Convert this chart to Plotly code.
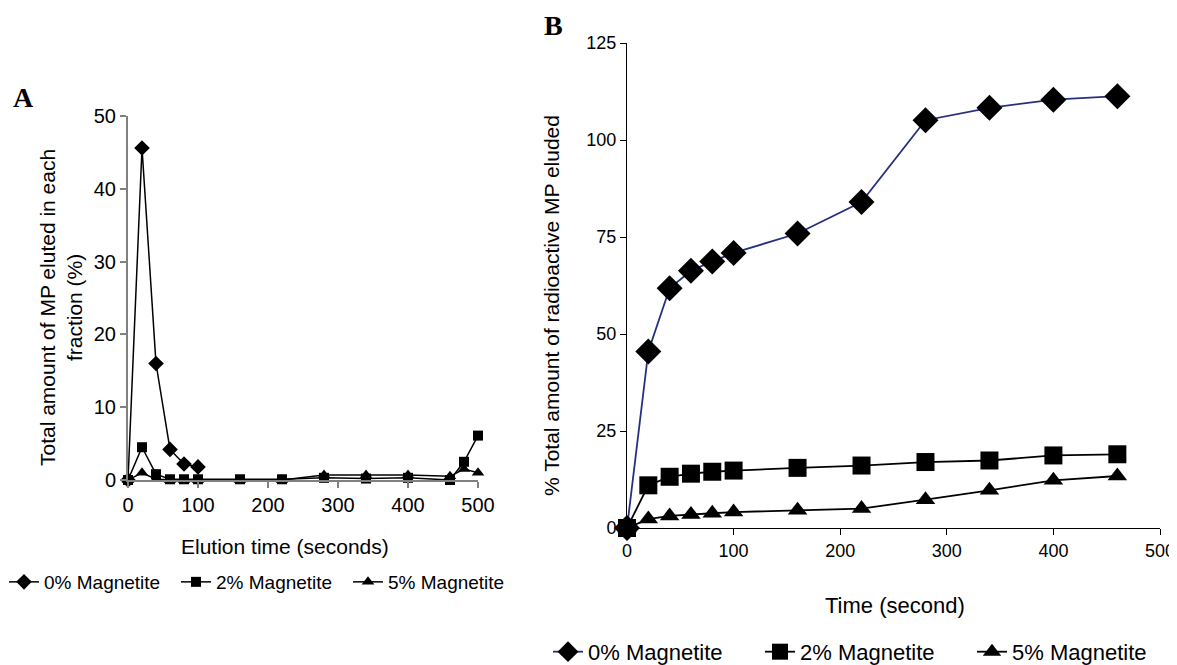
import plotly.graph_objects as go

# ---------------- Data ----------------
# Panel A: amount eluted in each fraction (%)
a_time_0 = [0, 20, 40, 60, 80, 100]
a_mag0 = [0, 45.6, 16.0, 4.2, 2.2, 1.8]
a_time = [0, 20, 40, 60, 80, 100, 160, 220, 280, 340, 400, 460, 480, 500]
a_mag2 = [0, 4.5, 0.8, 0.1, 0.1, 0.1, 0.1, 0.1, 0.3, 0.2, 0.3, 0.0, 2.5, 6.1]
a_mag5 = [0, 1.0, 0.1, 0.0, 0.0, 0.0, 0.0, 0.0, 0.7, 0.7, 0.7, 0.5, 1.5, 1.0]

# Panel B: cumulative % eluted
b_time = [0, 20, 40, 60, 80, 100, 160, 220, 280, 340, 400, 460]
b_mag0 = [0, 45.5, 61.8, 66.3, 68.7, 70.9, 75.9, 84.0, 105.1, 108.3, 110.4, 111.3]
b_mag2 = [0, 11.0, 13.2, 14.0, 14.5, 14.8, 15.5, 16.1, 17.0, 17.4, 18.7, 19.0]
b_mag5 = [0, 2.3, 3.1, 3.5, 3.8, 4.1, 4.6, 5.0, 7.3, 9.7, 12.3, 13.4]

series_names = ["0% Magnetite", "2% Magnetite", "5% Magnetite"]

OFF = 8  # default page body margin
W, H = 1177 - OFF, 665 - OFF
FONT = "Arial, Liberation Sans, sans-serif"

def px(x):
    return (x - OFF) / W

def py(y):
    return 1 - (y - OFF) / H

fig = go.Figure()

# Panel A traces
a_sets = [(a_time_0, a_mag0, "diamond", 12), (a_time, a_mag2, "square", 10), (a_time, a_mag5, "triangle-up", 11)]
for (xs, ys, sym, sz), name in zip(a_sets, series_names):
    fig.add_trace(go.Scatter(
        x=xs, y=ys, mode="lines+markers", name=name,
        line=dict(color="black", width=1.5),
        marker=dict(symbol=sym, size=sz, color="black"),
        xaxis="x", yaxis="y", legend="legend", cliponaxis=False,
    ))

# Panel B traces
b_sets = [(b_mag0, "diamond", 20, "#26307e"), (b_mag2, "square", 18, "black"), (b_mag5, "triangle-up", 17, "black")]
for (ys, sym, sz, col), name in zip(b_sets, series_names):
    fig.add_trace(go.Scatter(
        x=b_time, y=ys, mode="lines+markers", name=name,
        line=dict(color=col, width=1.8),
        marker=dict(symbol=sym, size=sz, color="black"),
        xaxis="x2", yaxis="y2", legend="legend2", cliponaxis=False,
    ))

axis_a = dict(showgrid=False, zeroline=False, showline=True, linecolor="#808080", linewidth=2,
              ticks="outside", tickcolor="#808080", ticklen=6, tickwidth=1.5,
              tickfont=dict(family=FONT, size=20, color="black"))
axis_b = dict(showgrid=False, zeroline=False, showline=True, linecolor="black", linewidth=1,
              ticks="outside", tickcolor="black", ticklen=6, tickwidth=1,
              tickfont=dict(family=FONT, size=18, color="black"))

fig.update_layout(
    width=W, height=H,
    margin=dict(l=0, r=0, t=0, b=0, autoexpand=False),
    paper_bgcolor="white", plot_bgcolor="white",
    font=dict(family=FONT, color="black"),
    xaxis=dict(axis_a, domain=[px(128), px(478)], range=[0, 500], tickvals=[0, 100, 200, 300, 400, 500], anchor="y"),
    yaxis=dict(axis_a, domain=[py(480), py(116)], range=[0, 50], tickvals=[0, 10, 20, 30, 40, 50], anchor="x"),
    xaxis2=dict(axis_b, domain=[px(627), px(1160)], range=[0, 500], tickvals=[0, 100, 200, 300, 400, 500], anchor="y2"),
    yaxis2=dict(axis_b, domain=[py(528), py(43)], range=[0, 125], tickvals=[0, 25, 50, 75, 100, 125], anchor="x2"),
    legend=dict(orientation="h", x=px(4), y=py(582), xanchor="left", yanchor="middle",
                font=dict(family=FONT, size=19), bgcolor="rgba(0,0,0,0)", itemwidth=30,
                entrywidth=127, traceorder="normal"),
    legend2=dict(orientation="h", x=px(548), y=-0.012, xanchor="left", yanchor="bottom",
                 font=dict(family=FONT, size=22), bgcolor="rgba(0,0,0,0)", itemwidth=30,
                 entrywidth=167, traceorder="normal"),
    showlegend=True,
)

annotations = [
    dict(text="<b>A</b>", x=px(23), y=py(97), font=dict(family="Times New Roman, Liberation Serif, serif", size=28)),
    dict(text="<b>B</b>", x=px(553), y=py(25), font=dict(family="Times New Roman, Liberation Serif, serif", size=28)),
    dict(text="Total amount of MP eluted in each<br>fraction (%)", x=px(61), y=py(308), textangle=-90,
         font=dict(family=FONT, size=21)),
    dict(text="Elution time (seconds)", x=px(285), y=py(546), font=dict(family=FONT, size=21)),
    dict(text="% Total amount of radioactive MP eluded", x=px(551), y=py(306), textangle=-90,
         font=dict(family=FONT, size=21)),
    dict(text="Time (second)", x=px(895), y=py(605), font=dict(family=FONT, size=22)),
]
for a in annotations:
    a.update(xref="paper", yref="paper", showarrow=False, xanchor="center", yanchor="middle")
fig.update_layout(annotations=annotations)

fig.write_html("out.html")
